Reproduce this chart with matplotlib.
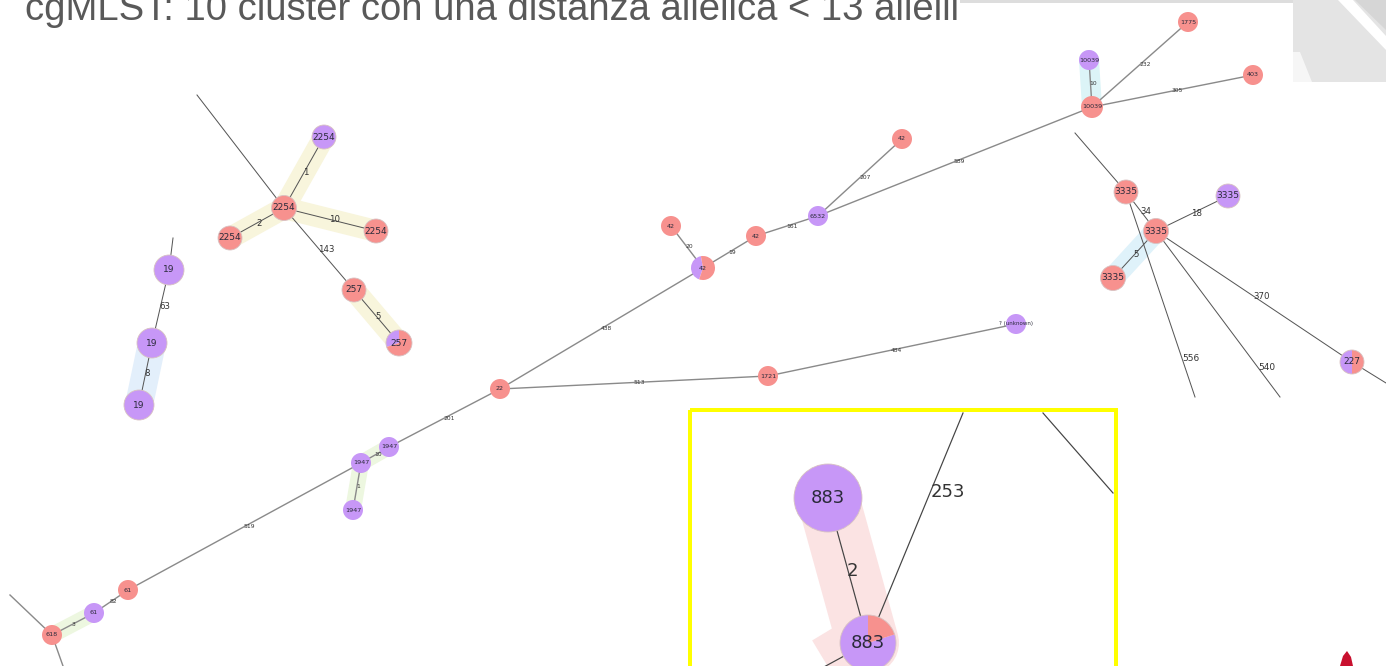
import matplotlib
matplotlib.use("Agg")
import matplotlib.pyplot as plt
from matplotlib.patches import Circle, Wedge, Rectangle, Polygon
import numpy as np

# ---------------- data ----------------
title = "cgMLST: 10 cluster con una distanza allelica < 13 allelli"

node_labels = ["2254", "2254", "2254", "2254", "257", "257",
               "19", "19", "19",
               "10039", "10039", "1775", "403", "42", "6532", "42", "42", "42",
               "22", "1721", "? (unknown)", "1947", "1947", "1947", "61", "61", "618",
               "3335", "3335", "3335", "3335", "227",
               "883", "883"]
# share of isolates coloured purple in each node (rest is salmon)
node_purple_share = [0, 1, 0, 0, 0, 0.30,
                     1, 1, 1,
                     1, 0, 0, 0, 0, 1, 0, 0, 0.42,
                     0, 0, 1, 1, 1, 1, 0, 1, 0,
                     0, 1, 0, 0, 0.5,
                     1, 0.80]

# edges: (from, to, allelic distance)
edge_from = [0, 0, 0, 0, 4, 6, 7,
             9, 10, 10, 10, 14, 14, 15, 16, 17, 18, 19, 18, 21, 22, 22, 24, 25,
             27, 29, 29, 29, 32]
edge_to = [1, 2, 3, 4, 5, 7, 8,
           10, 11, 12, 14, 13, 15, 17, 17, 18, 19, 20, 21, 22, 23, 24, 25, 26,
           29, 28, 30, 31, 33]
edge_dist = ["1", "2", "10", "143", "5", "63", "8",
             "10", "232", "305", "589", "207", "161", "19", "20", "438", "513", "484",
             "201", "10", "1", "519", "82", "3",
             "34", "18", "5", "370", "2"]

# edges leaving the cropped screenshots: (node, label)
open_edge_node = [0, 6, 26, 26, 27, 27, 29, 31, 33, 33]
open_edge_dist = ["", "", "", "", "", "556", "540", "", "253", ""]

# ---------------- layout (screenshot pixel positions) ----------------
node_x = [284, 324, 230, 376, 354, 399,
          169, 152, 139,
          1089, 1092, 1188, 1253, 902, 818, 756, 671, 703,
          500, 768, 1016, 389, 361, 353, 128, 94, 52,
          1126, 1228, 1156, 1113, 1352,
          828, 868]
node_y = [208, 137, 238, 231, 290, 343,
          270, 343, 405,
          60, 107, 22, 75, 139, 216, 236, 226, 268,
          389, 376, 324, 447, 463, 510, 590, 613, 635,
          192, 196, 231, 278, 362,
          498, 643]
node_r = [12.5, 12, 12, 12, 12, 13,
          15, 15, 15,
          10, 11, 10, 10, 10, 10, 10, 10, 12,
          10, 10, 10, 10, 10, 10, 10, 10, 10,
          12, 12, 12.5, 12.5, 12,
          34, 28]
node_group = ["p"] * 9 + ["m"] * 18 + ["p"] * 5 + ["z"] * 2
pie_start = {5: 90, 17: 100, 31: 90, 33: 90}
edge_group = ["p"] * 7 + ["m"] * 17 + ["p"] * 4 + ["z"]
open_edge_end = [(197, 95), (173, 238), (10, 595), (63, 666), (1075, 133),
                 (1195, 397), (1280, 397), (1386, 383), (963, 413), (800, 680)]
open_edge_t = [0, 0, 0, 0, 0, 0.81, 0.825, 0, 0.657, 0]
loose_segments = [((1043, 413), (1113, 493))]

halo_pairs = [(0, 1), (0, 2), (0, 3), (4, 5), (7, 8), (9, 10),
              (21, 22), (22, 23), (25, 26), (29, 30), (32, 33)]
halo_color = ["#F8F5DC"] * 4 + ["#E3EFFB", "#DCF4F7"] + ["#EDF7E0"] * 3 + ["#DFF2FA", "#FBE3E3"]
halo_width = [22, 22, 22, 22, 28, 20, 16, 16, 16, 22, 62]

SALMON = "#F7918E"
PURPLE = "#C797F7"

W, H = 1386, 666
fig = plt.figure(figsize=(W / 100, H / 100), dpi=100)
ax = fig.add_axes([0, 0, 1, 1])
ax.set_xlim(0, W)
ax.set_ylim(H, 0)
ax.axis("off")
PX = 0.72  # points per pixel

# slide decoration top right
ax.add_patch(Rectangle((960, 0), 333, 3, color="#DDDDDD", lw=0, zorder=0))
ax.add_patch(Rectangle((1293, 0), 93, 82, color="#E4E4E4", lw=0, zorder=0))
ax.add_patch(Polygon([(1355, 0), (1386, 0), (1386, 30)], closed=True, color="#D6D6D6", lw=0, zorder=0))
ax.add_patch(Polygon([(1338, 0), (1353, 0), (1386, 36), (1386, 50)], closed=True, color="white", lw=0, zorder=0))
ax.add_patch(Polygon([(1293, 52), (1300, 52), (1312, 82), (1293, 82)], closed=True, color="#F6F6F6", lw=0, zorder=0))
# small red logo bottom right
ax.add_patch(Polygon([(1340, 666), (1343, 656), (1347, 651), (1351, 657), (1353, 666)],
                     closed=True, color="#C8102E", lw=0, zorder=0))

# title (cut at the top edge as on the slide)
ax.text(25, 20, title, fontsize=27.5, family="Liberation Sans", color="#595959",
        va="baseline", ha="left", zorder=10)

# zoom frame
ax.add_patch(Rectangle((689.5, 410), 426, 300, fill=False, edgecolor="#FFFF00",
                       lw=4 * PX, zorder=8))

# halos (cluster highlight)
for (a, b), c, w in zip(halo_pairs, halo_color, halo_width):
    ax.plot([node_x[a], node_x[b]], [node_y[a], node_y[b]], color=c, lw=w * PX,
            solid_capstyle="round", zorder=1)
# extra halo for 883 going out of frame
ax.plot([node_x[33], 765], [node_y[33], 705], color="#FBE3E3", lw=62 * PX,
        solid_capstyle="butt", zorder=1)

styles = {"p": dict(color="#555555", lw=1.0 * PX, fs=6.5),
          "m": dict(color="#8A8A8A", lw=1.4 * PX, fs=4.6),
          "z": dict(color="#444444", lw=1.2 * PX, fs=13)}

# edges
for a, b, d, g in zip(edge_from, edge_to, edge_dist, edge_group):
    st = styles[g]
    ax.plot([node_x[a], node_x[b]], [node_y[a], node_y[b]], color=st["color"],
            lw=st["lw"], zorder=2, solid_capstyle="butt")
    mx, my = (node_x[a] + node_x[b]) / 2, (node_y[a] + node_y[b]) / 2
    ax.text(mx - 1, my, d, fontsize=st["fs"] * (0.95 if g != "z" else 1.0),
            color="#333333", ha="left", va="center", zorder=6)

for n, (ex, ey), d, t in zip(open_edge_node, open_edge_end, open_edge_dist, open_edge_t):
    st = styles[node_group[n]]
    ax.plot([node_x[n], ex], [node_y[n], ey], color=st["color"], lw=st["lw"], zorder=2)
    if d:
        lx = node_x[n] + t * (ex - node_x[n])
        ly = node_y[n] + t * (ey - node_y[n])
        ax.text(lx, ly, d, fontsize=st["fs"], color="#333333", ha="left",
                va="center", zorder=6)

for (p, q) in loose_segments:
    ax.plot([p[0], q[0]], [p[1], q[1]], color="#444444", lw=1.2 * PX, zorder=2)

# nodes
for i, (lab, x, y, r, s, g) in enumerate(zip(node_labels, node_x, node_y, node_r,
                                             node_purple_share, node_group)):
    ec = "#D8C2C2" if g != "m" else "none"
    if s <= 0:
        ax.add_patch(Circle((x, y), r, facecolor=SALMON, edgecolor=ec, lw=0.6, zorder=4))
    elif s >= 1:
        ax.add_patch(Circle((x, y), r, facecolor=PURPLE, edgecolor=ec, lw=0.6, zorder=4))
    else:
        a0 = pie_start.get(i, 90)
        a1 = a0 + 360 * s
        # y axis is inverted: visual angle a -> data angle -a
        ax.add_patch(Wedge((x, y), r, -a1, -a0, facecolor=PURPLE, edgecolor="none", zorder=4))
        ax.add_patch(Wedge((x, y), r, -a0 - 360, -a1, facecolor=SALMON, edgecolor="none", zorder=4))
        ax.add_patch(Circle((x, y), r, facecolor="none", edgecolor=ec, lw=0.6, zorder=4))
    fs = styles[g]["fs"]
    if lab.startswith("?"):
        fs = 4.0
    ax.text(x, y, lab, fontsize=fs, color="#2A2A3A", ha="center", va="center", zorder=7)

fig.savefig("out.png", dpi=100, facecolor="white")
